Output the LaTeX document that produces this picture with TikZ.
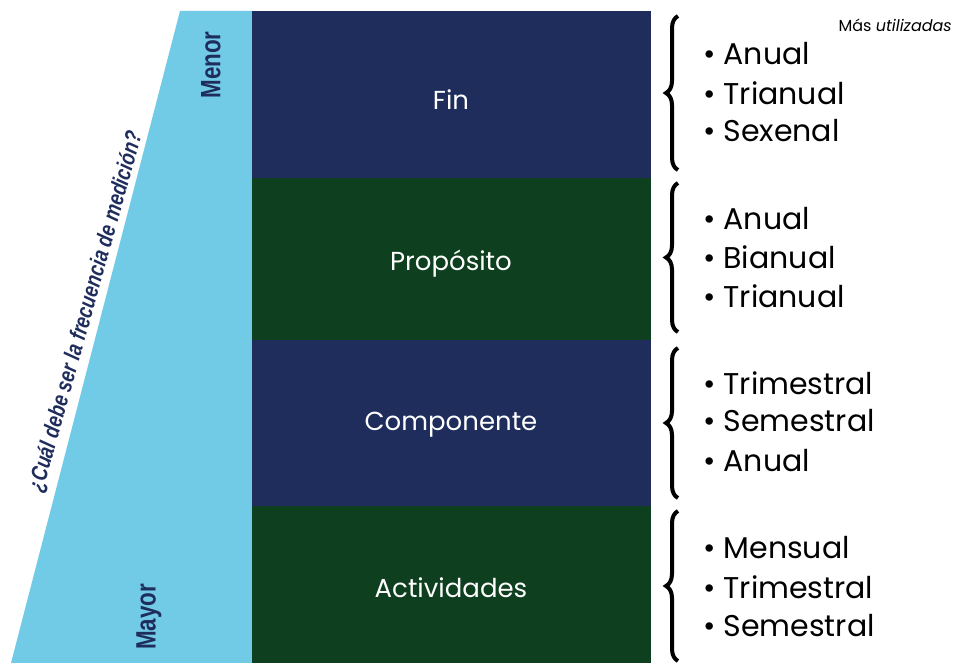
\documentclass[tikz,border=0pt]{standalone}
\usepackage{fontspec}
\setmainfont{Poppins}
\newfontfamily\narrowfont[FakeStretch=0.80]{Liberation Sans}
\usetikzlibrary{decorations.pathreplacing}

\definecolor{navyblock}{RGB}{31,45,92}
\definecolor{greenblock}{RGB}{14,63,30}
\definecolor{skyramp}{RGB}{113,203,230}

\tikzset{
  blocklabel/.style={text=white,font=\fontsize{26}{30}\selectfont},
  freqitem/.style={anchor=west,inner sep=0pt,font=\fontsize{30}{34}\selectfont},
  sidelabel/.style={text=navyblock,rotate=90,inner sep=0pt,font=\narrowfont\bfseries\fontsize{28}{32}\selectfont},
  bigbrace/.style={decorate,decoration={brace,amplitude=12pt},line width=4pt}
}

\begin{document}
\begin{tikzpicture}[x=1pt,y=1pt,yscale=-1,xscale=1]
\useasboundingbox (0,0) rectangle (955,663);

%Shape: Ramp
\fill [skyramp] (180,11) -- (253,11) -- (253,663) -- (11,663) -- cycle ;
%Shape: Rectangles
\fill [navyblock] (252,11) rectangle (651,178) ;
\fill [greenblock] (252,178) rectangle (651,340) ;
\fill [navyblock] (252,340) rectangle (651,506) ;
\fill [greenblock] (252,506) rectangle (651,663) ;

% Text Node
\node (fin) [blocklabel] at (451,100) {Fin};
% Text Node
\node (proposito) [blocklabel] at (451,264) {Propósito};
% Text Node
\node (componente) [blocklabel] at (451,425) {Componente};
% Text Node
\node (actividades) [blocklabel] at (451,588) {Actividades};

% Text Node
\node (menor) [sidelabel] at (211,65) {Menor};
% Text Node
\node (mayor) [sidelabel] at (149,617) {Mayor};
% Text Node
\node (pregunta) [text=navyblock,rotate=74.5,inner sep=0pt,font=\narrowfont\bfseries\itshape\fontsize{23}{26}\selectfont] at (86,312) {¿Cuál debe ser la frecuencia de medición?};

%Shape: Braces
\draw [bigbrace] (678,170) -- (678,16) ;
\draw [bigbrace] (678,332) -- (678,183) ;
\draw [bigbrace] (678,498) -- (678,348) ;
\draw [bigbrace] (678,661) -- (678,511) ;

% Text Node
\node (masusadas) [anchor=east,inner sep=0pt,font=\fontsize{16}{18}\selectfont] at (952,25) {Más \textit{utilizadas}};

% Text Node
\foreach \name/\yy/\txt in {a1/54/Anual, a2/93/Trianual, a3/131/Sexenal,
  b1/219/Anual, b2/257/Bianual, b3/296/Trianual,
  c1/383/Trimestral, c2/421/Semestral, c3/461/Anual,
  d1/548/Mensual, d2/587/Trimestral, d3/626/Semestral}
  \node (\name) [freqitem] at (703,\yy) {\textbullet\ \txt};

\end{tikzpicture}
\end{document}
